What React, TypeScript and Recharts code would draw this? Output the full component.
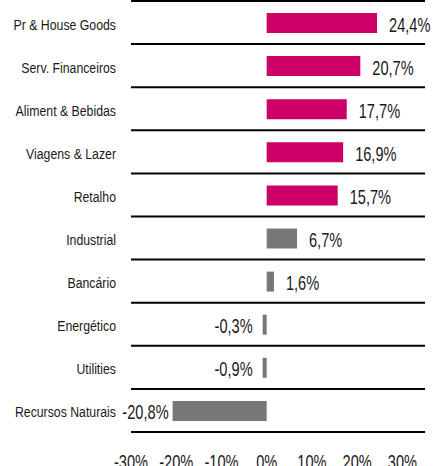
import React from 'react';
import { BarChart, Bar, XAxis, YAxis, CartesianGrid, Cell, LabelList } from 'recharts';

const categories = [
  'Pr & House Goods',
  'Serv. Financeiros',
  'Aliment & Bebidas',
  'Viagens & Lazer',
  'Retalho',
  'Industrial',
  'Bancário',
  'Energético',
  'Utilities',
  'Recursos Naturais',
];
const values = [24.4, 20.7, 17.7, 16.9, 15.7, 6.7, 1.6, -0.3, -0.9, -20.8];
const highlighted = [true, true, true, true, true, false, false, false, false, false];
const xTicks = [-30, -20, -10, 0, 10, 20, 30];

const PINK = '#cc0066';
const GRAY = '#777777';
const TEXT = '#1a1a1a';
// no narrow font installed, so squeeze Liberation Sans horizontally instead
const FONT = '"Liberation Sans", Arial, sans-serif';

const data = categories.map((name, i) => ({ name, value: values[i], hi: highlighted[i] }));

const fmt = (v: number) => v.toFixed(1).replace('.', ',') + '%';

function Narrow({ x, y, anchor, size, squeeze, children }: any) {
  return (
    <text
      transform={`translate(${x} ${y}) scale(${squeeze} 1)`}
      textAnchor={anchor}
      fontSize={size}
      fontFamily={FONT}
      fill={TEXT}
    >
      {children}
    </text>
  );
}

function ValueLabel(props: any) {
  const { x, y, width, height, value } = props;
  const left = Math.min(x, x + width);
  const right = Math.max(x, x + width);
  const base = y + height / 2 + 8.5;
  if (value >= 0) {
    return (
      <Narrow x={right + 12} y={base} anchor="start" size={20} squeeze={0.73}>
        {fmt(value)}
      </Narrow>
    );
  }
  // wide negative bars sit close to the category label, so the gap is tighter
  const gap = right - left > 20 ? 4 : 10;
  return (
    <Narrow x={left - gap} y={base} anchor="end" size={20} squeeze={0.73}>
      {fmt(value)}
    </Narrow>
  );
}

function CategoryTick(props: any) {
  const { x, y, payload } = props;
  return (
    <Narrow x={x} y={y + 7} anchor="end" size={15} squeeze={0.82}>
      {payload.value}
    </Narrow>
  );
}

function PercentTick(props: any) {
  const { x, y, payload } = props;
  return (
    <Narrow x={x} y={y + 37} anchor="middle" size={20} squeeze={0.73}>
      {`${payload.value}%`}
    </Narrow>
  );
}

export default function App() {
  return (
    <div style={{ position: 'absolute', left: 0, top: 0, background: '#fff' }}>
      <BarChart
        width={434}
        height={466}
        data={data}
        layout="vertical"
        margin={{ top: 1, right: 9, bottom: 0, left: 0 }}
        barSize={20}
      >
        <CartesianGrid
          vertical={false}
          stroke="#000"
          strokeWidth={2}
          horizontalCoordinatesGenerator={({ offset }: any) =>
            categories.map((_, i) => offset.top + (i * offset.height) / categories.length).concat(offset.top + offset.height)
          }
        />
        <XAxis
          type="number"
          domain={[-30, 35]}
          ticks={xTicks}
          axisLine={false}
          tickLine={false}
          tickSize={0}
          tickMargin={0}
          height={34}
          interval={0}
          tick={<PercentTick />}
        />
        <YAxis
          type="category"
          dataKey="name"
          width={131}
          axisLine={false}
          tickLine={false}
          tickSize={0}
          tickMargin={15}
          interval={0}
          tick={<CategoryTick />}
        />
        <Bar dataKey="value" minPointSize={4} isAnimationActive={false}>
          {data.map((d, i) => (
            <Cell key={i} fill={d.hi ? PINK : GRAY} />
          ))}
          <LabelList dataKey="value" content={<ValueLabel />} />
        </Bar>
      </BarChart>
    </div>
  );
}
